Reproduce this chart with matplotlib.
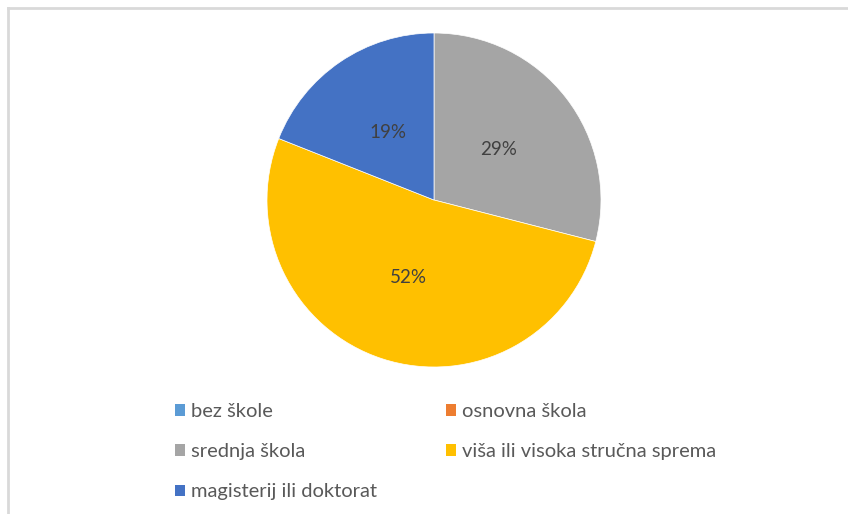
import matplotlib
matplotlib.use("Agg")
import matplotlib.pyplot as plt
from matplotlib.patches import Patch
from matplotlib.lines import Line2D

categories = ["bez škole", "osnovna škola", "srednja škola",
              "viša ili visoka stručna sprema", "magisterij ili doktorat"]
values = [0, 0, 29, 52, 19]
colors = ["#5B9BD5", "#ED7D31", "#A5A5A5", "#FFC000", "#4472C4"]

plt.rcParams['font.family'] = ['Lato', 'DejaVu Sans']

W, H = 848, 514
fig = plt.figure(figsize=(W / 100, H / 100), dpi=100)
fig.patch.set_facecolor("white")

# frame border (top and left visible)
fig.add_artist(Line2D([8 / W, 1.0], [1 - 8 / H, 1 - 8 / H], transform=fig.transFigure,
                      color="#D9D9D9", lw=2))
fig.add_artist(Line2D([8 / W, 8 / W], [0.0, 1 - 8 / H], transform=fig.transFigure,
                      color="#D9D9D9", lw=2))

cx, cy, r = 434, 200, 167
ax = fig.add_axes([(cx - r) / W, 1 - (cy + r) / H, 2 * r / W, 2 * r / H])
nz = [(v, c) for v, c in zip(values, colors) if v > 0]
wedges, texts, autotexts = ax.pie(
    [v for v, _ in nz], colors=[c for _, c in nz], startangle=90, counterclock=False,
    autopct=lambda p: f"{p:.0f}%", pctdistance=0.49,
    wedgeprops=dict(linewidth=0.5, edgecolor="white"),
    textprops=dict(fontsize=13.5, color="#404040"))
ax.set_aspect("equal")
ax.set_xlim(-1, 1)
ax.set_ylim(-1, 1)
ax.axis("off")

handles = [Patch(facecolor=c, edgecolor="none") for c in colors]
order = [0, 2, 4, 1, 3]  # row-wise filling for 2 columns
leg = fig.legend([handles[i] for i in order], [categories[i] for i in order],
                 ncol=2, loc="upper left",
                 bbox_to_anchor=(157 / W, 1 - 385 / H), frameon=False,
                 fontsize=14.5, handlelength=0.5, handleheight=0.5, handletextpad=0.3,
                 columnspacing=3.4, labelspacing=1.15, labelcolor="#595959")

fig.savefig("out.png", dpi=100, facecolor="white")
